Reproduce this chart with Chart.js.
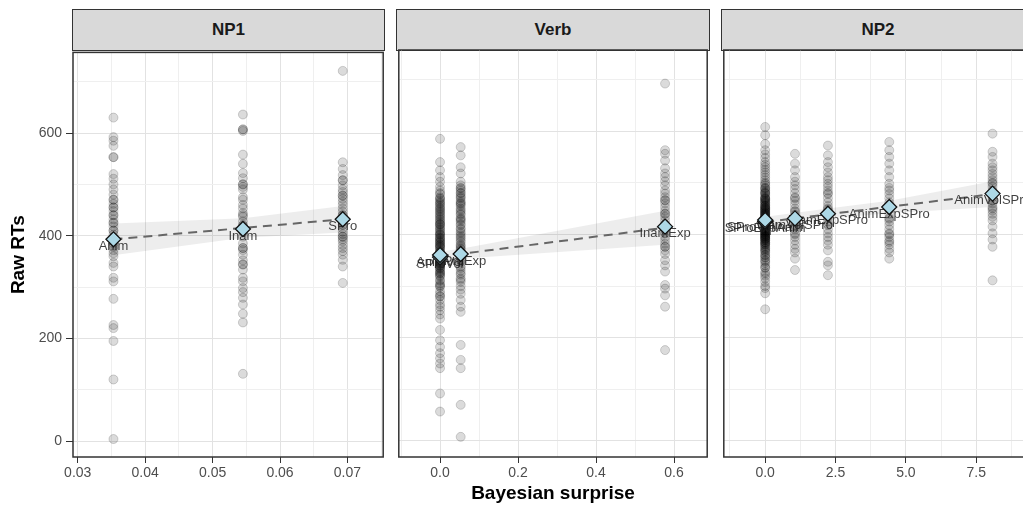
<!DOCTYPE html>
<html lang="en">
<head>
<meta charset="UTF-8">
<title>Raw RTs by Bayesian surprise</title>
<script src="https://cdn.jsdelivr.net/npm/chart.js"></script>
<style>
body {
    margin: 0;
    width: 1023px;
    height: 510px;
    overflow: hidden;
    background: #fff;
    position: relative;
    font-family: "Liberation Sans", Arial, sans-serif;
}
.strip {
    position: absolute;
    top: 9px;
    height: 42px;
    box-sizing: border-box;
    background: #d9d9d9;
    border: 1.5px solid #333;
    display: flex;
    align-items: center;
    justify-content: center;
    font-weight: bold;
    font-size: 17px;
    color: #1a1a1a;
}
canvas { position: absolute; top: 40px; }
#xtitle {
    position: absolute;
    left: 403px;
    width: 300px;
    top: 482px;
    text-align: center;
    font-weight: bold;
    font-size: 19px;
    line-height: 22px;
    color: #000;
}
</style>
</head>
<body>
<div class="strip" style="left:72px; width:313px;">NP1</div>
<div class="strip" style="left:396px; width:314px;">Verb</div>
<div class="strip" style="left:721px; width:314px;">NP2</div>
<canvas id="np1" width="392" height="470" style="left:0px"></canvas>
<canvas id="verb" width="326" height="470" style="left:390px"></canvas>
<canvas id="np2" width="326" height="470" style="left:715px"></canvas>
<div id="xtitle">Bayesian surprise</div>

<script>
// ---- y axis (shared) ----
const rtMajor = [0, 200, 400, 600];
const rtMinor = [100, 300, 500, 700];
const rtMin = -31, rtMax = 757;

// ---- NP1 ----
const np1Labels = ['Anim', 'Inam', 'SPro'];
const np1Surprise = [0.0353, 0.0545, 0.0693];
const np1Means = [393, 413, 432];
const np1ColX = [0.0353, 0.0545, 0.0693];
const np1RT = [
    [630, 592, 585, 575, 553, 520, 511, 500, 490, 480, 470, 462, 455, 448, 440, 432, 425, 418, 410, 402, 396, 390, 385, 378, 372, 366, 360, 347, 340, 318, 311, 277, 226, 220, 195, 120, 4,
     470, 455, 440, 425, 410, 395, 380, 553],
    [636, 607, 604, 558, 540, 522, 512, 500, 495, 490, 470, 460, 453, 444, 437, 428, 420, 408, 398, 385, 376, 372, 363, 352, 344, 334, 318, 311, 298, 290, 279, 266, 248, 231, 131,
     607, 500, 475, 440, 420, 376, 344],
    [721, 543, 530, 518, 508, 498, 490, 485, 478, 472, 466, 460, 453, 447, 440, 434, 428, 421, 414, 408, 403, 398, 393, 389, 382, 376, 370, 363, 353, 340, 308,
     508, 478, 440, 421, 398]
];
const np1FitX = [0.0353, 0.0693];
const np1FitY = [393, 432];
const np1BandX = [0.0353, 0.0545, 0.0693];
const np1BandLo = [362, 396, 406];
const np1BandHi = [424, 434, 458];
const np1Major = [0.03, 0.04, 0.05, 0.06, 0.07];
const np1TickLabels = ['0.03', '0.04', '0.05', '0.06', '0.07'];
const np1Minor = [0.035, 0.045, 0.055, 0.065, 0.075];

// ---- Verb ----
const verbLabels = ['SProVol', 'AnimVol', 'SProExp', 'InamExp'];
const verbSurprise = [0, 0, 0.053, 0.577];
const verbMeans = [356, 360, 362, 415];
const verbColX = [0, 0.053, 0.577];
const verbRT = [
    [585, 540, 524, 511, 502, 492, 485, 480, 478, 470, 468, 465, 460, 458, 455, 450, 448, 445, 440, 438, 435, 430, 428, 425, 420, 418, 415, 410, 408, 405, 400, 398, 395, 390, 388, 385, 380, 378, 375, 370, 368, 365, 360, 358, 355, 350, 348, 345, 340, 338, 335, 330, 325, 318, 310, 305, 298, 290, 285, 280, 273, 265, 253, 245, 237, 215, 195, 182, 170, 160, 150, 141, 92, 57,
     472, 462, 452, 443, 433, 423, 413, 403, 393, 383, 373, 363, 353, 343, 333, 322, 312, 302, 392, 386, 376, 366, 356, 346, 336, 328, 320, 360, 352, 344, 420, 400, 380, 340, 325, 300, 280, 260],
    [569, 553, 530, 518, 502, 495, 489, 485, 480, 475, 472, 465, 462, 458, 450, 447, 444, 438, 432, 428, 425, 418, 412, 405, 398, 392, 385, 378, 372, 365, 358, 350, 345, 338, 330, 322, 315, 308, 300, 293, 285, 273, 260, 250, 186, 157, 141, 70, 8,
     490, 470, 455, 440, 420, 402, 388, 375, 362, 348, 335, 325, 312, 370, 395, 410, 460, 480, 430, 380],
    [692, 563, 556, 543, 528, 518, 511, 503, 495, 485, 479, 472, 466, 460, 453, 446, 440, 434, 427, 420, 414, 408, 402, 395, 389, 382, 376, 369, 362, 350, 340, 328, 302, 295, 282, 260, 176,
     466, 440, 420, 402, 376]
];
const verbFitX = [0, 0.577];
const verbFitY = [357, 413];
const verbBandX = [0, 0.053, 0.577];
const verbBandLo = [347, 353, 380];
const verbBandHi = [367, 372, 446];
const verbMajor = [0, 0.2, 0.4, 0.6];
const verbTickLabels = ['0.0', '0.2', '0.4', '0.6'];
const verbMinor = [-0.1, 0.1, 0.3, 0.5];

// ---- NP2 ----
const np2Labels = ['SProExpAnim', 'SProVolInam', 'InamVolSPro', 'InamExpSPro', 'AnimExpSPro', 'AnimVolSPro'];
const np2Surprise = [0, 0, 1.06, 2.23, 4.41, 8.08];
const np2Means = [425, 428, 431, 440, 453, 479];
const np2ColX = [0, 1.06, 2.23, 4.41, 8.08];
const np2RT = [
    [608, 592, 575, 563, 555, 548, 540, 535, 530, 525, 520, 515, 510, 505, 500, 498, 495, 490, 488, 485, 482, 480, 478, 475, 472, 470, 468, 465, 462, 460, 458, 455, 452, 450, 448, 445, 442, 440, 438, 435, 432, 430, 428, 425, 422, 420, 418, 415, 412, 410, 408, 405, 402, 400, 398, 395, 392, 390, 388, 385, 382, 380, 375, 372, 368, 365, 360, 355, 350, 345, 340, 335, 327, 320, 315, 308, 300, 296, 286, 255,
     470, 462, 455, 448, 440, 433, 426, 419, 412, 405, 398, 391, 384, 377, 446, 438, 430, 422, 414, 406, 400, 394, 388, 450, 442, 434, 426, 418, 410, 402, 396, 468, 456, 444, 432, 420, 408, 396, 384, 372, 360, 348, 336, 324,
     490, 480, 465, 452, 436, 424, 416, 404, 392, 380, 368, 356],
    [556, 537, 524, 511, 502, 495, 488, 480, 472, 465, 458, 450, 444, 438, 432, 425, 418, 410, 402, 395, 388, 380, 372, 365, 353, 331,
     470, 445, 430, 415, 400],
    [572, 553, 540, 530, 520, 511, 505, 498, 492, 485, 478, 470, 462, 455, 448, 440, 432, 425, 418, 410, 402, 395, 388, 380, 369, 347, 340, 321,
     480, 450, 435, 420],
    [579, 563, 550, 537, 524, 511, 498, 490, 485, 478, 470, 462, 455, 448, 440, 432, 425, 418, 410, 402, 395, 388, 380, 372, 365, 353,
     450, 430, 400, 385],
    [595, 560, 550, 537, 530, 524, 517, 511, 505, 498, 492, 485, 478, 472, 466, 460, 453, 446, 440, 434, 427, 415, 402, 390, 376, 311,
     500, 480, 465, 450]
];
const np2FitX = [0, 8.08];
const np2FitY = [424, 478];
const np2BandX = [0, 2.23, 4.41, 8.08];
const np2BandLo = [414, 431, 441, 453];
const np2BandHi = [434, 450, 465, 503];
const np2Major = [0, 2.5, 5, 7.5];
const np2TickLabels = ['0.0', '2.5', '5.0', '7.5'];
const np2Minor = [-1.25, 1.25, 3.75, 6.25, 8.75];

const FONT = '"Liberation Sans", Arial, sans-serif';
Chart.defaults.font.family = FONT;

const xy = (xs, ys) => xs.map((x, i) => ({x: x, y: ys[i]}));

// text labels under each diamond, drawn just before the diamonds
const meanLabels = {
    id: 'meanLabels',
    afterDatasetDraw(chart, args, opts) {
        if (args.index !== 3) return;
        const {ctx, scales: {x, y}} = chart;
        ctx.save();
        ctx.font = '13px ' + FONT;
        ctx.fillStyle = 'rgba(30,30,30,0.85)';
        ctx.textAlign = 'center';
        ctx.textBaseline = 'middle';
        opts.labels.forEach((t, i) => {
            ctx.fillText(t, x.getPixelForValue(opts.xs[i]), y.getPixelForValue(opts.ys[i]) + 7);
        });
        ctx.restore();
    },
    afterDraw(chart) {
        const {ctx, chartArea: a} = chart;
        ctx.save();
        ctx.strokeStyle = '#333';
        ctx.lineWidth = 1.5;
        ctx.strokeRect(a.left, a.top, a.right - a.left, a.bottom - a.top);
        ctx.restore();
    }
};

function makePanel(id, p) {
    const raw = p.colX.flatMap((x, i) => p.colRT[i].map(v => ({x: x, y: v})));
    const xGrid = p.major.concat(p.minor).sort((a, b) => a - b);
    const yGrid = rtMajor.concat(rtMinor).sort((a, b) => a - b);
    const gridCol = major => ctx => major.includes(ctx.tick.value) ? '#e2e2e2' : '#efefef';
    const tickCol = major => ctx => major.includes(ctx.tick.value) ? '#333' : 'rgba(0,0,0,0)';

    new Chart(document.getElementById(id), {
        type: 'scatter',
        data: {
            datasets: [
                { data: raw, pointRadius: 4.5, backgroundColor: 'rgba(0,0,0,0.14)',
                  borderColor: 'rgba(0,0,0,0.17)', borderWidth: 1, order: 5 },
                { type: 'line', data: xy(p.bandX, p.bandLo), borderWidth: 0, pointRadius: 0,
                  fill: false, order: 4 },
                { type: 'line', data: xy(p.bandX, p.bandHi), borderWidth: 0, pointRadius: 0,
                  fill: '-1', backgroundColor: 'rgba(0,0,0,0.07)', order: 3 },
                { type: 'line', data: xy(p.fitX, p.fitY), borderColor: '#666', borderWidth: 2,
                  borderDash: [9, 6], pointRadius: 0, fill: false, order: 2 },
                { data: xy(p.xs, p.means), pointStyle: 'rectRot', pointRadius: 7.5,
                  backgroundColor: '#add8e6', borderColor: '#111', borderWidth: 1.3, order: 1 }
            ]
        },
        options: {
            responsive: false,
            animation: false,
            events: [],
            layout: { padding: { left: p.padL, right: p.padR, top: 10, bottom: 0 } },
            elements: { line: { tension: 0 } },
            plugins: {
                legend: { display: false },
                tooltip: { enabled: false },
                meanLabels: { labels: p.labels, xs: p.xs, ys: p.means }
            },
            scales: {
                x: {
                    type: 'linear', min: p.xMin, max: p.xMax,
                    afterBuildTicks: s => { s.ticks = xGrid.map(v => ({value: v})); },
                    afterFit: s => { s.height = 53; },
                    border: { display: false },
                    grid: { color: gridCol(p.major), tickColor: tickCol(p.major), tickLength: 6, lineWidth: 1 },
                    ticks: {
                        autoSkip: false, maxRotation: 0, padding: 2,
                        color: '#4d4d4d', font: { size: 14 },
                        callback: v => { const i = p.major.indexOf(v); return i < 0 ? '' : p.tickLabels[i]; }
                    }
                },
                y: {
                    type: 'linear', min: rtMin, max: rtMax,
                    afterBuildTicks: s => { s.ticks = yGrid.map(v => ({value: v})); },
                    afterFit: s => { s.width = p.showY ? 73 : 0; },
                    border: { display: false },
                    grid: { color: gridCol(rtMajor), tickColor: tickCol(rtMajor),
                            tickLength: 7, drawTicks: p.showY },
                    ticks: {
                        display: p.showY, autoSkip: false, padding: 4,
                        color: '#4d4d4d', font: { size: 14 },
                        callback: v => rtMajor.includes(v) ? String(v) : ''
                    },
                    title: {
                        display: p.showY, text: 'Raw RTs', color: '#000',
                        font: { size: 19, weight: 'bold' }, padding: { top: 7, bottom: 0 }
                    }
                }
            }
        },
        plugins: [meanLabels]
    });
}

makePanel('np1', {
    labels: np1Labels, xs: np1Surprise, means: np1Means, colX: np1ColX, colRT: np1RT,
    fitX: np1FitX, fitY: np1FitY, bandX: np1BandX, bandLo: np1BandLo, bandHi: np1BandHi,
    major: np1Major, tickLabels: np1TickLabels, minor: np1Minor,
    xMin: 0.0293, xMax: 0.0753, padL: 0, padR: 8, showY: true
});
makePanel('verb', {
    labels: verbLabels, xs: verbSurprise, means: verbMeans, colX: verbColX, colRT: verbRT,
    fitX: verbFitX, fitY: verbFitY, bandX: verbBandX, bandLo: verbBandLo, bandHi: verbBandHi,
    major: verbMajor, tickLabels: verbTickLabels, minor: verbMinor,
    xMin: -0.1057, xMax: 0.685, padL: 7, padR: 7, showY: false
});
makePanel('np2', {
    labels: np2Labels, xs: np2Surprise, means: np2Means, colX: np2ColX, colRT: np2RT,
    fitX: np2FitX, fitY: np2FitY, bandX: np2BandX, bandLo: np2BandLo, bandHi: np2BandHi,
    major: np2Major, tickLabels: np2TickLabels, minor: np2Minor,
    xMin: -1.47, xMax: 9.49, padL: 7, padR: 7, showY: false
});
</script>
</body>
</html>
